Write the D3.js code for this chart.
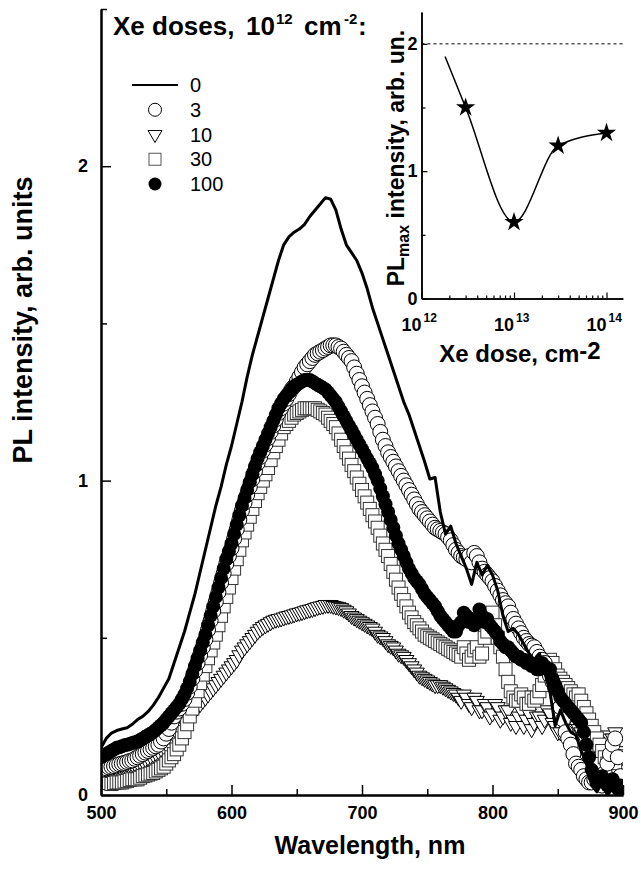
<!DOCTYPE html>
<html>
<head>
<meta charset="utf-8">
<script src="https://cdn.jsdelivr.net/npm/d3@7"></script>
<style>
body { margin: 0; background: #fff; }
svg { display: block; font-family: "Liberation Sans", Arial, sans-serif; }
</style>
</head>
<body>
<script>
// marker spectra: one value every 2 nm, 500..900 nm
var wavelengths = d3.range(500, 901, 2);
// solid curve: one value every 4 nm
var lineWavelengths = d3.range(500, 901, 4);

var pl0 = [
  0.15, 0.18, 0.197, 0.205, 0.21, 0.214, 0.225, 0.24, 0.25, 0.265,
  0.285, 0.31, 0.34, 0.37, 0.42, 0.47, 0.52, 0.58, 0.64, 0.71,
  0.78, 0.85, 0.92, 0.98, 1.05, 1.11, 1.18, 1.25, 1.33, 1.40,
  1.46, 1.52, 1.58, 1.64, 1.70, 1.75, 1.775, 1.79, 1.80, 1.815,
  1.84, 1.86, 1.88, 1.90, 1.895, 1.86, 1.80, 1.75, 1.725, 1.70,
  1.66, 1.61, 1.55, 1.50, 1.45, 1.40, 1.35, 1.30, 1.25, 1.21,
  1.16, 1.11, 1.06, 1.005, 1.01, 0.90, 0.83, 0.855, 0.80, 0.76,
  0.72, 0.67, 0.74, 0.70, 0.73, 0.70, 0.65, 0.57, 0.52, 0.53,
  0.51, 0.48, 0.45, 0.43, 0.45, 0.39, 0.33, 0.22, 0.27, 0.23,
  0.20, 0.19, 0.14, 0.10, 0.03, 0.01, 0.04, 0.0, 0.02, 0.0,
  0.01];

var pl3 = [
  0.08, 0.082, 0.085, 0.088, 0.09, 0.092, 0.095, 0.098, 0.10, 0.102,
  0.105, 0.108, 0.11, 0.115, 0.12, 0.125, 0.13, 0.135, 0.14, 0.145,
  0.15, 0.155, 0.16, 0.17, 0.18, 0.195, 0.21, 0.23, 0.25, 0.265,
  0.275, 0.29, 0.305, 0.325, 0.345, 0.37, 0.395, 0.42, 0.445, 0.47,
  0.495, 0.525, 0.555, 0.585, 0.615, 0.645, 0.675, 0.705, 0.735, 0.76,
  0.785, 0.815, 0.845, 0.875, 0.905, 0.93, 0.955, 0.98, 1.005, 1.03,
  1.055, 1.075, 1.095, 1.115, 1.135, 1.155, 1.175, 1.195, 1.215, 1.23,
  1.245, 1.26, 1.275, 1.29, 1.30, 1.315, 1.33, 1.345, 1.36, 1.37,
  1.38, 1.39, 1.40, 1.405, 1.41, 1.415, 1.42, 1.425, 1.43, 1.43,
  1.43, 1.425, 1.42, 1.41, 1.40, 1.39, 1.38, 1.36, 1.34, 1.32,
  1.30, 1.28, 1.26, 1.24, 1.22, 1.20, 1.18, 1.155, 1.13, 1.11,
  1.09, 1.075, 1.06, 1.045, 1.03, 1.015, 1.00, 0.985, 0.97, 0.955,
  0.94, 0.925, 0.91, 0.90, 0.89, 0.88, 0.87, 0.86, 0.85, 0.845,
  0.84, 0.835, 0.83, 0.82, 0.81, 0.795, 0.78, 0.77, 0.76, 0.755,
  0.75, 0.76, 0.74, 0.77, 0.76, 0.74, 0.72, 0.71, 0.70, 0.69,
  0.68, 0.665, 0.65, 0.635, 0.62, 0.61, 0.60, 0.58, 0.56, 0.545,
  0.53, 0.515, 0.50, 0.49, 0.48, 0.475, 0.47, 0.455, 0.44, 0.43,
  0.42, 0.40, 0.38, 0.36, 0.34, 0.31, 0.28, 0.24, 0.20, 0.18,
  0.16, 0.13, 0.10, 0.09, 0.08, 0.06, 0.05, 0.04, 0.04, 0.05,
  0.06, 0.04, 0.03, 0.07, 0.10, 0.13, 0.16, 0.18, 0.12, 0.06,
  0.02];

var pl10 = [
  0.08, 0.082, 0.085, 0.088, 0.09, 0.09, 0.09, 0.092, 0.095, 0.098,
  0.10, 0.10, 0.10, 0.102, 0.105, 0.108, 0.11, 0.115, 0.12, 0.125,
  0.13, 0.135, 0.14, 0.148, 0.155, 0.162, 0.17, 0.18, 0.19, 0.20,
  0.21, 0.22, 0.23, 0.24, 0.25, 0.26, 0.27, 0.28, 0.29, 0.30,
  0.31, 0.32, 0.33, 0.34, 0.35, 0.36, 0.37, 0.38, 0.39, 0.40,
  0.41, 0.42, 0.43, 0.445, 0.46, 0.47, 0.48, 0.49, 0.50, 0.51,
  0.52, 0.528, 0.535, 0.54, 0.545, 0.55, 0.555, 0.558, 0.56, 0.562,
  0.565, 0.568, 0.57, 0.572, 0.575, 0.578, 0.58, 0.582, 0.585, 0.588,
  0.59, 0.592, 0.595, 0.598, 0.60, 0.602, 0.605, 0.605, 0.605, 0.602,
  0.60, 0.598, 0.595, 0.59, 0.585, 0.578, 0.57, 0.565, 0.56, 0.555,
  0.55, 0.545, 0.54, 0.535, 0.53, 0.52, 0.51, 0.505, 0.50, 0.49,
  0.48, 0.475, 0.47, 0.46, 0.45, 0.445, 0.44, 0.43, 0.42, 0.41,
  0.40, 0.39, 0.38, 0.375, 0.37, 0.365, 0.36, 0.355, 0.35, 0.35,
  0.35, 0.345, 0.34, 0.335, 0.33, 0.325, 0.32, 0.31, 0.30, 0.32,
  0.31, 0.29, 0.28, 0.31, 0.30, 0.27, 0.27, 0.29, 0.28, 0.25,
  0.26, 0.29, 0.28, 0.24, 0.25, 0.27, 0.27, 0.23, 0.24, 0.22,
  0.25, 0.27, 0.22, 0.24, 0.26, 0.21, 0.23, 0.25, 0.25, 0.22,
  0.24, 0.27, 0.26, 0.23, 0.22, 0.20, 0.20, 0.23, 0.23, 0.21,
  0.21, 0.20, 0.19, 0.21, 0.20, 0.18, 0.18, 0.16, 0.17, 0.15,
  0.15, 0.17, 0.17, 0.19, 0.16, 0.18, 0.18, 0.20, 0.14, 0.13,
  0.12];

var pl30 = [
  0.04, 0.045, 0.04, 0.038, 0.035, 0.038, 0.04, 0.04, 0.04, 0.043,
  0.045, 0.048, 0.05, 0.05, 0.05, 0.055, 0.06, 0.062, 0.065, 0.068,
  0.07, 0.075, 0.08, 0.085, 0.09, 0.10, 0.11, 0.12, 0.13, 0.145,
  0.16, 0.18, 0.20, 0.225, 0.25, 0.275, 0.30, 0.33, 0.356, 0.383,
  0.41, 0.435, 0.46, 0.485, 0.51, 0.54, 0.57, 0.60, 0.63, 0.66,
  0.69, 0.72, 0.75, 0.78, 0.81, 0.835, 0.86, 0.885, 0.91, 0.935,
  0.96, 0.98, 1.00, 1.02, 1.04, 1.065, 1.09, 1.11, 1.13, 1.15,
  1.17, 1.18, 1.19, 1.20, 1.21, 1.215, 1.22, 1.225, 1.23, 1.23,
  1.23, 1.23, 1.23, 1.225, 1.22, 1.215, 1.21, 1.20, 1.19, 1.18,
  1.17, 1.15, 1.13, 1.11, 1.09, 1.07, 1.05, 1.03, 1.01, 0.99,
  0.97, 0.95, 0.93, 0.91, 0.89, 0.87, 0.85, 0.825, 0.80, 0.78,
  0.76, 0.735, 0.71, 0.685, 0.66, 0.64, 0.62, 0.60, 0.58, 0.565,
  0.55, 0.54, 0.53, 0.52, 0.51, 0.505, 0.50, 0.495, 0.49, 0.485,
  0.48, 0.475, 0.47, 0.465, 0.46, 0.455, 0.45, 0.445, 0.44, 0.47,
  0.45, 0.43, 0.44, 0.46, 0.47, 0.44, 0.45, 0.50, 0.52, 0.56,
  0.58, 0.54, 0.50, 0.47, 0.44, 0.40, 0.36, 0.33, 0.31, 0.30,
  0.30, 0.32, 0.31, 0.29, 0.29, 0.31, 0.30, 0.31, 0.33, 0.35,
  0.38, 0.41, 0.43, 0.42, 0.40, 0.38, 0.37, 0.36, 0.35, 0.34,
  0.33, 0.32, 0.31, 0.32, 0.30, 0.28, 0.26, 0.24, 0.22, 0.20,
  0.18, 0.16, 0.14, 0.12, 0.10, 0.11, 0.09, 0.08, 0.06, 0.05,
  0.04];

var pl100 = [
  0.12, 0.125, 0.13, 0.135, 0.14, 0.145, 0.15, 0.152, 0.155, 0.158,
  0.16, 0.162, 0.165, 0.168, 0.17, 0.175, 0.18, 0.185, 0.19, 0.195,
  0.20, 0.207, 0.215, 0.222, 0.23, 0.24, 0.25, 0.26, 0.27, 0.28,
  0.29, 0.305, 0.32, 0.34, 0.36, 0.385, 0.41, 0.435, 0.46, 0.485,
  0.51, 0.54, 0.57, 0.60, 0.63, 0.66, 0.69, 0.72, 0.75, 0.775,
  0.80, 0.83, 0.86, 0.89, 0.92, 0.945, 0.97, 0.995, 1.02, 1.045,
  1.07, 1.09, 1.11, 1.13, 1.15, 1.17, 1.19, 1.21, 1.23, 1.245,
  1.26, 1.27, 1.28, 1.29, 1.30, 1.305, 1.31, 1.315, 1.32, 1.32,
  1.32, 1.315, 1.31, 1.305, 1.30, 1.295, 1.29, 1.28, 1.27, 1.26,
  1.25, 1.235, 1.22, 1.205, 1.19, 1.175, 1.16, 1.145, 1.13, 1.115,
  1.10, 1.085, 1.07, 1.055, 1.04, 1.02, 1.00, 0.975, 0.95, 0.925,
  0.90, 0.875, 0.85, 0.825, 0.80, 0.78, 0.76, 0.74, 0.72, 0.705,
  0.69, 0.68, 0.67, 0.655, 0.64, 0.63, 0.62, 0.61, 0.60, 0.585,
  0.57, 0.56, 0.55, 0.54, 0.53, 0.52, 0.52, 0.54, 0.55, 0.58,
  0.57, 0.55, 0.56, 0.54, 0.55, 0.59, 0.57, 0.55, 0.56, 0.54,
  0.53, 0.52, 0.51, 0.49, 0.48, 0.47, 0.47, 0.46, 0.45, 0.44,
  0.44, 0.43, 0.43, 0.42, 0.42, 0.41, 0.41, 0.40, 0.40, 0.42,
  0.41, 0.40, 0.40, 0.37, 0.35, 0.33, 0.31, 0.30, 0.29, 0.28,
  0.27, 0.26, 0.25, 0.24, 0.23, 0.20, 0.16, 0.12, 0.08, 0.06,
  0.04, 0.05, 0.06, 0.04, 0.03, 0.04, 0.05, 0.03, 0.02, 0.03,
  0.01];

var legendLabels = ["0", "3", "10", "30", "100"];

// inset: maximum of PL vs Xe dose
var insetDose = [3e12, 1e13, 3e13, 1e14];
var insetPL = [1.5, 0.6, 1.2, 1.3];
var guideDose = [1.8e12, 3e12, 1e13, 3e13, 1e14];
var guidePL = [1.9, 1.5, 0.6, 1.2, 1.3];
var insetRef = 2;

var W = 641, H = 872;
var font = "'Liberation Sans', Arial, sans-serif";
var triDown = "M-7.5,-4.3L7.5,-4.3L0,8.7Z";

var svg = d3.select("body").append("svg")
  .attr("width", W)
  .attr("height", H);

var x = d3.scaleLinear().domain([500, 900]).range([101, 623]);
var y = d3.scaleLinear().domain([0, 2.5]).range([795, 9]);

svg.append("clipPath").attr("id", "plotclip")
  .append("rect")
  .attr("x", x(500)).attr("y", y(2.5))
  .attr("width", x(900) - x(500)).attr("height", y(0) - y(2.5));

var plot = svg.append("g").attr("clip-path", "url(#plotclip)");

function pts(grid, vals) {
  return grid.map(function(w, i) { return [w, vals[i]]; });
}

// triangles (10)
plot.append("g").selectAll("path")
  .data(pts(wavelengths, pl10))
  .join("path")
  .attr("transform", function(d) { return "translate(" + x(d[0]) + "," + y(d[1]) + ")"; })
  .attr("d", triDown)
  .attr("fill", "#fff")
  .attr("stroke", "#000")
  .attr("stroke-width", 1);

// squares (30)
plot.append("g").selectAll("rect")
  .data(pts(wavelengths, pl30))
  .join("rect")
  .attr("x", function(d) { return x(d[0]) - 6.5; })
  .attr("y", function(d) { return y(d[1]) - 6.5; })
  .attr("width", 13).attr("height", 13)
  .attr("fill", "#fff")
  .attr("stroke", "#333")
  .attr("stroke-width", 1);

// open circles (3)
plot.append("g").selectAll("circle")
  .data(pts(wavelengths, pl3))
  .join("circle")
  .attr("cx", function(d) { return x(d[0]); })
  .attr("cy", function(d) { return y(d[1]); })
  .attr("r", 7.5)
  .attr("fill", "#fff")
  .attr("stroke", "#000")
  .attr("stroke-width", 1);

// filled circles (100)
plot.append("g").selectAll("circle")
  .data(pts(wavelengths, pl100))
  .join("circle")
  .attr("cx", function(d) { return x(d[0]); })
  .attr("cy", function(d) { return y(d[1]); })
  .attr("r", 7)
  .attr("fill", "#000");

// solid line (0)
plot.append("path")
  .datum(pts(lineWavelengths, pl0))
  .attr("fill", "none")
  .attr("stroke", "#000")
  .attr("stroke-width", 3)
  .attr("stroke-linejoin", "round")
  .attr("d", d3.line().x(function(d) { return x(d[0]); }).y(function(d) { return y(d[1]); }));

// main axes
function styleAxis(g, size) {
  g.attr("font-family", font).attr("font-size", size).attr("font-weight", "bold");
  g.selectAll("line").attr("stroke-width", 1.5);
  g.select(".domain").attr("stroke-width", 2);
}

svg.append("g")
  .attr("transform", "translate(" + x(500) + ",0)")
  .call(d3.axisLeft(y).tickValues([0, 1, 2]).tickFormat(d3.format("d"))
    .tickSizeInner(-10).tickSizeOuter(0).tickPadding(13))
  .call(styleAxis, 18);
svg.append("g")
  .attr("transform", "translate(" + x(500) + ",0)")
  .call(d3.axisLeft(y).tickValues([0.5, 1.5, 2.5]).tickFormat("")
    .tickSizeInner(-6).tickSizeOuter(0))
  .call(styleAxis, 18);

svg.append("g")
  .attr("transform", "translate(0," + y(0) + ")")
  .call(d3.axisBottom(x).tickValues([500, 600, 700, 800, 900]).tickFormat(d3.format("d"))
    .tickSizeInner(-10).tickSizeOuter(0).tickPadding(11))
  .call(styleAxis, 18);
svg.append("g")
  .attr("transform", "translate(0," + y(0) + ")")
  .call(d3.axisBottom(x).tickValues([550, 650, 750, 850]).tickFormat("")
    .tickSizeInner(-6).tickSizeOuter(0))
  .call(styleAxis, 18);

svg.append("text")
  .attr("x", 370).attr("y", 854)
  .attr("text-anchor", "middle")
  .attr("font-family", font).attr("font-size", 25).attr("font-weight", "bold")
  .text("Wavelength, nm");

svg.append("text")
  .attr("transform", "translate(32,320) rotate(-90)")
  .attr("text-anchor", "middle")
  .attr("font-family", font).attr("font-size", 27).attr("font-weight", "bold")
  .text("PL intensity, arb. units");

// legend
var title = svg.append("text")
  .attr("y", 35)
  .attr("font-family", font).attr("font-size", 26).attr("font-weight", "bold");
title.append("tspan").attr("x", 113).text("Xe doses,");
title.append("tspan").attr("x", 246).text("10");
title.append("tspan").attr("x", 276).attr("dy", -11).attr("font-size", 15).text("12");
title.append("tspan").attr("x", 304).attr("dy", 11).text("cm");
title.append("tspan").attr("x", 344).attr("dy", -11).attr("font-size", 15).text("-2");
title.append("tspan").attr("x", 358).attr("dy", 11).text(":");

var legY = d3.scalePoint().domain(legendLabels).range([85, 184]);
var leg = svg.append("g");
leg.append("line")
  .attr("x1", 132).attr("x2", 178)
  .attr("y1", legY("0")).attr("y2", legY("0"))
  .attr("stroke", "#000").attr("stroke-width", 2);
leg.append("circle")
  .attr("cx", 155).attr("cy", legY("3")).attr("r", 6.5)
  .attr("fill", "#fff").attr("stroke", "#000");
leg.append("path")
  .attr("transform", "translate(155," + legY("10") + ")")
  .attr("d", "M-7,-4L7,-4L0,8Z")
  .attr("fill", "#fff").attr("stroke", "#000");
leg.append("rect")
  .attr("x", 149).attr("y", legY("30") - 6).attr("width", 12).attr("height", 12)
  .attr("fill", "#fff").attr("stroke", "#555");
leg.append("circle")
  .attr("cx", 155).attr("cy", legY("100")).attr("r", 6.5)
  .attr("fill", "#000");
leg.selectAll("text.lab")
  .data(legendLabels)
  .join("text")
  .attr("class", "lab")
  .attr("x", 190)
  .attr("y", function(d) { return legY(d); })
  .attr("dy", "0.35em")
  .attr("font-family", font).attr("font-size", 20)
  .text(function(d) { return d; });

// inset
var ix = d3.scaleLog().domain([1e12, 1.5e14]).range([421.5, 622.8]);
var iy = d3.scaleLinear().domain([0, 2.25]).range([298.5, 12]);

svg.append("line")
  .attr("x1", ix(1e12)).attr("x2", ix(1.5e14))
  .attr("y1", iy(insetRef)).attr("y2", iy(insetRef))
  .attr("stroke", "#000").attr("stroke-width", 1)
  .attr("stroke-dasharray", "3,3");

svg.append("path")
  .datum(guideDose.map(function(d, i) { return [d, guidePL[i]]; }))
  .attr("fill", "none")
  .attr("stroke", "#000")
  .attr("stroke-width", 1.5)
  .attr("d", d3.line().curve(d3.curveMonotoneX)
    .x(function(d) { return ix(d[0]); })
    .y(function(d) { return iy(d[1]); }));

svg.append("g").selectAll("path")
  .data(insetDose.map(function(d, i) { return [d, insetPL[i]]; }))
  .join("path")
  .attr("transform", function(d) { return "translate(" + ix(d[0]) + "," + iy(d[1]) + ")"; })
  .attr("d", d3.symbol(d3.symbolStar, 115))
  .attr("fill", "#000");

function styleInset(g) {
  g.attr("font-family", font).attr("font-size", 18).attr("font-weight", "bold");
  g.selectAll("line").attr("stroke-width", 1.2);
  g.select(".domain").attr("stroke-width", 1.5);
}

svg.append("g")
  .attr("transform", "translate(" + ix(1e12) + ",0)")
  .call(d3.axisLeft(iy).tickValues([0, 1, 2]).tickFormat(d3.format("d"))
    .tickSizeInner(-6).tickSizeOuter(0).tickPadding(4))
  .call(styleInset);
svg.append("g")
  .attr("transform", "translate(" + ix(1e12) + ",0)")
  .call(d3.axisLeft(iy).tickValues([0.5, 1.5]).tickFormat("")
    .tickSizeInner(-4).tickSizeOuter(0))
  .call(styleInset);

var majorDose = [1e12, 1e13, 1e14];
var minorDose = ix.ticks().filter(function(d) { return majorDose.indexOf(d) < 0; });
svg.append("g")
  .attr("transform", "translate(0," + iy(0) + ")")
  .call(d3.axisBottom(ix).tickValues(majorDose).tickFormat("")
    .tickSizeInner(-6).tickSizeOuter(0))
  .call(styleInset);
svg.append("g")
  .attr("transform", "translate(0," + iy(0) + ")")
  .call(d3.axisBottom(ix).tickValues(minorDose).tickFormat("")
    .tickSizeInner(-3).tickSizeOuter(0))
  .call(styleInset);

var dl = svg.append("g").selectAll("text")
  .data(majorDose)
  .join("text")
  .attr("x", function(d) { return ix(d) - 20; })
  .attr("y", 331)
  .attr("font-family", font).attr("font-weight", "bold").attr("font-size", 18);
dl.append("tspan").text("10");
dl.append("tspan").attr("dx", 2).attr("dy", -9).attr("font-size", 12)
  .text(function(d) { return Math.round(Math.log10(d)); });

var ixl = svg.append("text")
  .attr("x", 520).attr("y", 362)
  .attr("text-anchor", "middle")
  .attr("font-family", font).attr("font-size", 24).attr("font-weight", "bold");
ixl.append("tspan").text("Xe dose, cm");
ixl.append("tspan").attr("dy", -3).text("-2");

var iyl = svg.append("text")
  .attr("transform", "translate(404,158) rotate(-90)")
  .attr("text-anchor", "middle")
  .attr("font-family", font).attr("font-size", 23).attr("font-weight", "bold");
iyl.append("tspan").text("PL");
iyl.append("tspan").attr("dy", 5).attr("font-size", 16).text("max");
iyl.append("tspan").attr("dy", -5).text(" intensity, arb. un.");
</script>
</body>
</html>
